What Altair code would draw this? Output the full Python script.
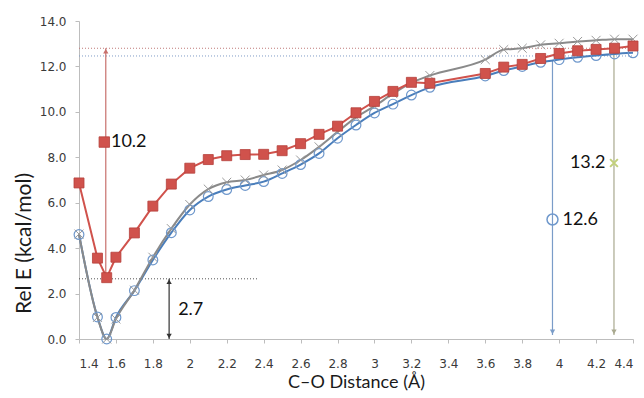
import altair as alt
import pandas as pd

# ---- data ----
dist = [1.4, 1.5, 1.55, 1.6, 1.7, 1.8, 1.9, 2.0, 2.1, 2.2, 2.3, 2.4, 2.5, 2.6, 2.7,
        2.8, 2.9, 3.0, 3.1, 3.2, 3.3, 3.6, 3.7, 3.8, 3.9, 4.0, 4.1, 4.2, 4.3, 4.4]
red_e = [6.87, 3.56, 2.7, 3.6, 4.67, 5.85, 6.82, 7.52, 7.9, 8.07, 8.12, 8.13, 8.29, 8.6, 9.01,
         9.37, 9.96, 10.46, 10.9, 11.3, 11.26, 11.69, 11.97, 12.09, 12.35, 12.57, 12.69, 12.75, 12.8, 12.9]
blue_e = [4.6, 0.97, 0.0, 0.95, 2.13, 3.48, 4.68, 5.68, 6.27, 6.58, 6.76, 6.93, 7.29, 7.68, 8.17,
          8.84, 9.42, 9.95, 10.34, 10.74, 11.08, 11.58, 11.82, 12.0, 12.18, 12.3, 12.4, 12.48, 12.55, 12.6]
gray_e = [4.62, 0.95, 0.0, 0.88, 2.15, 3.6, 4.86, 5.92, 6.6, 6.9, 7.0, 7.22, 7.44, 7.88, 8.46,
          9.12, 9.76, 10.25, 10.8, 11.28, 11.6, 12.3, 12.74, 12.8, 12.95, 13.02, 13.1, 13.15, 13.2, 13.2]

x_ticks = [1.4, 1.6, 1.8, 2.0, 2.2, 2.4, 2.6, 2.8, 3.0, 3.2, 3.4, 3.6, 3.8, 4.0, 4.2, 4.4]
y_ticks = [0, 2, 4, 6, 8, 10, 12, 14]

# dotted reference lines
hl_y = [12.8, 12.46, 2.65]
hl_x1 = [1.4, 1.4, 1.4]
hl_x2 = [4.4, 4.4, 2.37]
hl_col = ["#c07a78", "#7f9cc6", "#555555"]

# vertical arrows
ar_x = [1.545, 1.888, 3.964, 4.297]
ar_y1 = [2.7, 0.0, 0.18, 0.18]
ar_y2 = [12.8, 2.65, 12.25, 12.85]
ar_col = ["#c8706c", "#333333", "#7a9cc8", "#a9a98f"]

# arrow heads
head_x = [1.545, 1.888, 1.888, 3.964, 4.297]
head_y = [12.8, 2.65, 0.0, 0.18, 0.18]
head_dir = ["up", "up", "down", "down", "down"]
head_col = ["#c8706c", "#333333", "#333333", "#7a9cc8", "#a9a98f"]

# annotation texts
lab_x = [1.573, 1.937, 4.018, 4.251]
lab_y = [8.67, 1.28, 5.26, 7.75]
lab_txt = ["10.2", "2.7", "12.6", "13.2"]
lab_align = ["left", "left", "left", "right"]

# annotation markers
mk_red = ([1.537], [8.67])
mk_blue = ([3.964], [5.26])
mk_x = ([4.297], [7.75])

RED = "#d0524c"
RED_DARK = "#b5403b"
BLUE = "#4a7ebb"
BLUE_MK = "#6f98cc"
GRAY = "#8a8a8a"
XPATH = "M-1,-1L1,1M1,-1L-1,1"

xs = alt.Scale(domain=[1.4, 4.4], nice=False, zero=False)
ys = alt.Scale(domain=[0, 14], nice=False, zero=True)
xaxis = alt.Axis(values=x_ticks, format=".2~f", title="C–O Distance (Å)", grid=False,
                 domainColor="#bdbdbd", tickColor="#bdbdbd", tickSize=4,
                 labelFont="DejaVu Sans", labelFontSize=12, labelColor="#3a3a3a", labelPadding=15,
                 titleFont="Lato", titleFontSize=18, titleFontWeight="normal", titleColor="#1a1a1a",
                 titleBaseline="middle", titleY=43)
yaxis = alt.Axis(values=y_ticks, format=".1f", title="Rel E (kcal/mol)", grid=False,
                 domainColor="#bdbdbd", tickColor="#bdbdbd", tickSize=4,
                 labelFont="DejaVu Sans", labelFontSize=12, labelColor="#3a3a3a", labelPadding=9,
                 titleFont="Lato", titleFontSize=21, titleFontWeight="normal", titleColor="#1a1a1a",
                 titleBaseline="middle", titleAlign="center", titleAngle=270, titleX=-55, titleY=222)

X = alt.X("d:Q", scale=xs, axis=xaxis)
Y = alt.Y("e:Q", scale=ys, axis=yaxis)

red_df = pd.DataFrame({"d": dist, "e": red_e})
blue_df = pd.DataFrame({"d": dist, "e": blue_e})
gray_df = pd.DataFrame({"d": dist, "e": gray_e})

hl_df = pd.DataFrame({"d": hl_x1, "d2": hl_x2, "e": hl_y, "c": hl_col})
ar_df = pd.DataFrame({"d": ar_x, "e": ar_y1, "e2": ar_y2, "c": ar_col})
head_df = pd.DataFrame({"d": head_x, "e": head_y, "dir": head_dir, "c": head_col})
lab_df = pd.DataFrame({"d": lab_x, "e": lab_y, "t": lab_txt, "a": lab_align})

hlines = alt.Chart(hl_df).mark_rule(strokeDash=[1, 2], strokeWidth=1).encode(
    x=X, x2="d2:Q", y=Y, color=alt.Color("c:N", scale=None))

arrows = alt.Chart(ar_df).mark_rule(strokeWidth=1.2).encode(
    x=X, y=Y, y2="e2:Q", color=alt.Color("c:N", scale=None))

heads_up = alt.Chart(head_df[head_df.dir == "up"]).mark_point(
    shape="triangle-up", filled=True, size=28, opacity=1, yOffset=3).encode(
    x=X, y=Y, color=alt.Color("c:N", scale=None))
heads_dn = alt.Chart(head_df[head_df.dir == "down"]).mark_point(
    shape="triangle-down", filled=True, size=28, opacity=1, yOffset=-3).encode(
    x=X, y=Y, color=alt.Color("c:N", scale=None))

blue_line = alt.Chart(blue_df).mark_line(color=BLUE, strokeWidth=2, interpolate="monotone").encode(x=X, y=Y)
blue_pts = alt.Chart(blue_df).mark_point(shape="circle", filled=False, color=BLUE_MK, size=95,
                                          strokeWidth=1.2, opacity=1).encode(x=X, y=Y)
gray_line = alt.Chart(gray_df).mark_line(color=GRAY, strokeWidth=2, interpolate="monotone").encode(x=X, y=Y)
gray_pts = alt.Chart(gray_df).mark_point(shape=XPATH, filled=False, color="#9a9a9a", size=80,
                                          strokeWidth=1, opacity=1).encode(x=X, y=Y)
red_line = alt.Chart(red_df).mark_line(color=RED, strokeWidth=2).encode(x=X, y=Y)
red_pts = alt.Chart(red_df).mark_point(shape="square", filled=True, fill=RED, stroke=RED_DARK,
                                        strokeWidth=0.8, size=100, opacity=1).encode(x=X, y=Y)

mk_red_c = alt.Chart(pd.DataFrame({"d": mk_red[0], "e": mk_red[1]})).mark_point(
    shape="square", filled=True, fill=RED, stroke=RED_DARK, strokeWidth=0.8, size=110, opacity=1).encode(x=X, y=Y)
mk_blue_c = alt.Chart(pd.DataFrame({"d": mk_blue[0], "e": mk_blue[1]})).mark_point(
    shape="circle", filled=False, color=BLUE_MK, size=120, strokeWidth=1.5, opacity=1).encode(x=X, y=Y)
mk_x_c = alt.Chart(pd.DataFrame({"d": mk_x[0], "e": mk_x[1]})).mark_point(
    shape=XPATH, filled=False, color="#c2d07a", size=60, strokeWidth=2, opacity=1).encode(x=X, y=Y)

labels_l = alt.Chart(lab_df[lab_df.a == "left"]).mark_text(
    align="left", baseline="middle", font="Lato", fontSize=18, color="#111111").encode(x=X, y=Y, text="t:N")
labels_r = alt.Chart(lab_df[lab_df.a == "right"]).mark_text(
    align="right", baseline="middle", font="Lato", fontSize=18, color="#111111").encode(x=X, y=Y, text="t:N")

chart = alt.layer(
    hlines, arrows, heads_up, heads_dn,
    blue_line, gray_line, red_line, blue_pts, gray_pts, red_pts,
    mk_red_c, mk_blue_c, mk_x_c, labels_l, labels_r
).properties(
    width=554, height=318,
    autosize=alt.AutoSizeParams(type="none"),
    padding={"left": 79, "top": 21, "right": 11, "bottom": 59},
    background="white"
).configure_view(stroke=None)

chart.save("out.html", embed_options={"renderer": "svg", "actions": False})
